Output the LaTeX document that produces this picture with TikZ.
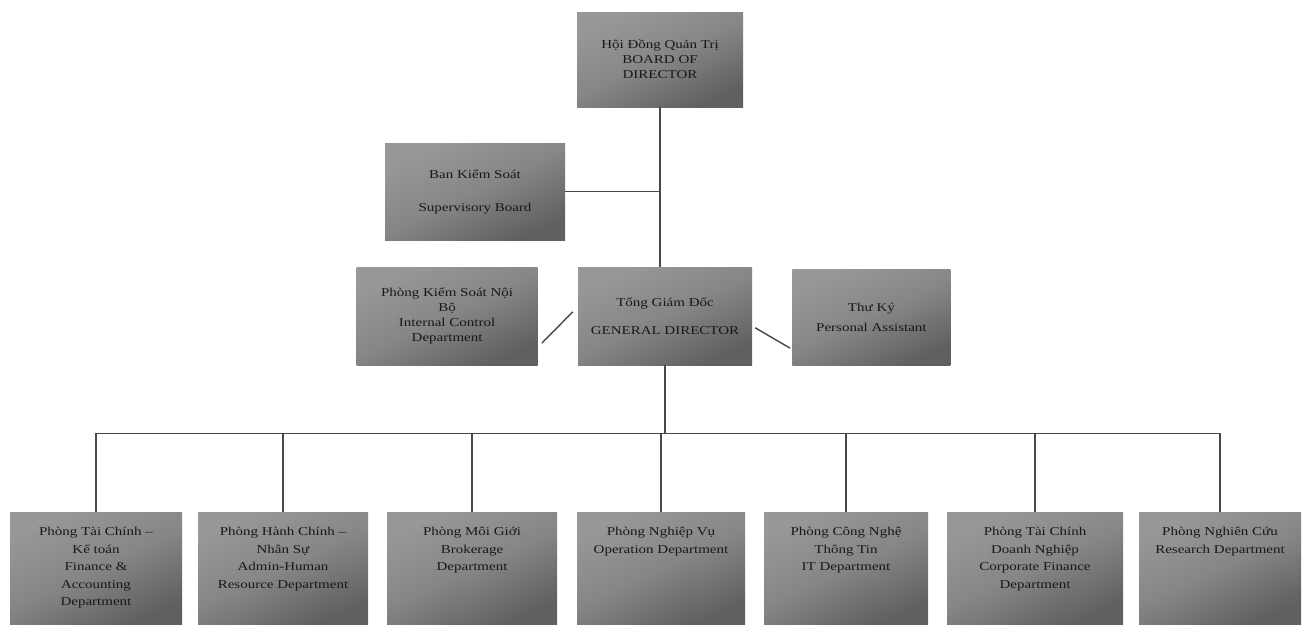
\documentclass[tikz,border=0pt]{standalone}
\usepackage{fontspec}
\setmainfont{Liberation Serif}[FakeStretch=1.25]
\usepackage{tikz}
\usetikzlibrary{positioning}

\definecolor{boxlight}{RGB}{152,152,152}
\definecolor{boxmid}{RGB}{134,134,134}
\definecolor{boxdark}{RGB}{96,96,96}
\definecolor{linegray}{RGB}{72,72,72}
\definecolor{inkgray}{RGB}{24,24,24}

\tikzset{
  box/.style={inner sep=0pt, align=center, text=inkgray,
    top color=boxlight, bottom color=boxdark, middle color=boxmid, shading angle=25,
    font=\fontsize{12}{15}\selectfont},
  dept/.style={box, anchor=north, minimum width=170pt, minimum height=112pt},
  depttext/.style={anchor=north, yshift=-12pt, align=center, text=inkgray,
    font=\fontsize{12}{17.5}\selectfont},
  conn/.style={draw=linegray, line width=1.4pt}
}

\begin{document}
\begin{tikzpicture}[x=1pt,y=-1pt]
    \useasboundingbox[fill=white] (0,0) rectangle (1303,624);

    \node[box, minimum width=166pt, minimum height=95pt] (board) at (660,59.5)
      {Hội Đồng Quản Trị\\BOARD OF\\DIRECTOR};
    \node[box, minimum width=180pt, minimum height=97pt] (sup) at (475,191.5)
      {Ban Kiểm Soát\\[18pt]Supervisory Board};
    \node[box, minimum width=174pt, minimum height=98pt] (gd) at (665,316)
      {Tổng Giám Đốc\\[13pt]GENERAL DIRECTOR};
    \node[box, minimum width=181pt, minimum height=98pt, left=40pt of gd] (ic)
      {Phòng Kiểm Soát Nội\\Bộ\\Internal Control\\Department};
    \node[box, minimum width=158pt, minimum height=96pt, right=40pt of gd, yshift=-1pt] (pa)
      {Thư Ký\\[5pt]Personal Assistant};

    \node[dept, minimum width=172pt, label={[depttext]north:{Phòng Tài Chính –\\Kế toán\\Finance \&\\Accounting\\Department}}] (fin) at (96,512) {};
    \node[dept, label={[depttext]north:{Phòng Hành Chính –\\Nhân Sự\\Admin-Human\\Resource Department}}] (adm) at (283,512) {};
    \node[dept, label={[depttext]north:{Phòng Môi Giới\\Brokerage\\Department}}] (brk) at (472,512) {};
    \node[dept, minimum width=168pt, label={[depttext]north:{Phòng Nghiệp Vụ\\Operation Department}}] (ops) at (661,512) {};
    \node[dept, minimum width=164pt, label={[depttext]north:{Phòng Công Nghệ\\Thông Tin\\IT Department}}] (it) at (846,512) {};
    \node[dept, minimum width=176pt, label={[depttext]north:{Phòng Tài Chính\\Doanh Nghiệp\\Corporate Finance\\Department}}] (corp) at (1035,512) {};
    \node[dept, minimum width=162pt, label={[depttext]north:{Phòng Nghiên Cứu\\Research Department}}] (res) at (1220,512) {};

    \draw[conn] (board.south) -- (board.south |- gd.north);
    \draw[conn] (sup.east) -- (sup.east -| board.south);
    \draw[conn] ([shift={(4,-22)}]ic.south east) -- ([shift={(-5,45)}]gd.north west);
    \draw[conn] ([shift={(3,61)}]gd.north east) -- ([shift={(-2,-17)}]pa.south west);

    \draw[conn] (gd.south) -- ++(0,68) coordinate (bus);
    \draw[conn] (fin.north) |- (bus) -| (res.north);
    \foreach \d in {adm,brk,ops,it,corp}
      \draw[conn] (\d.north) -- (\d.north |- bus);
\end{tikzpicture}
\end{document}
